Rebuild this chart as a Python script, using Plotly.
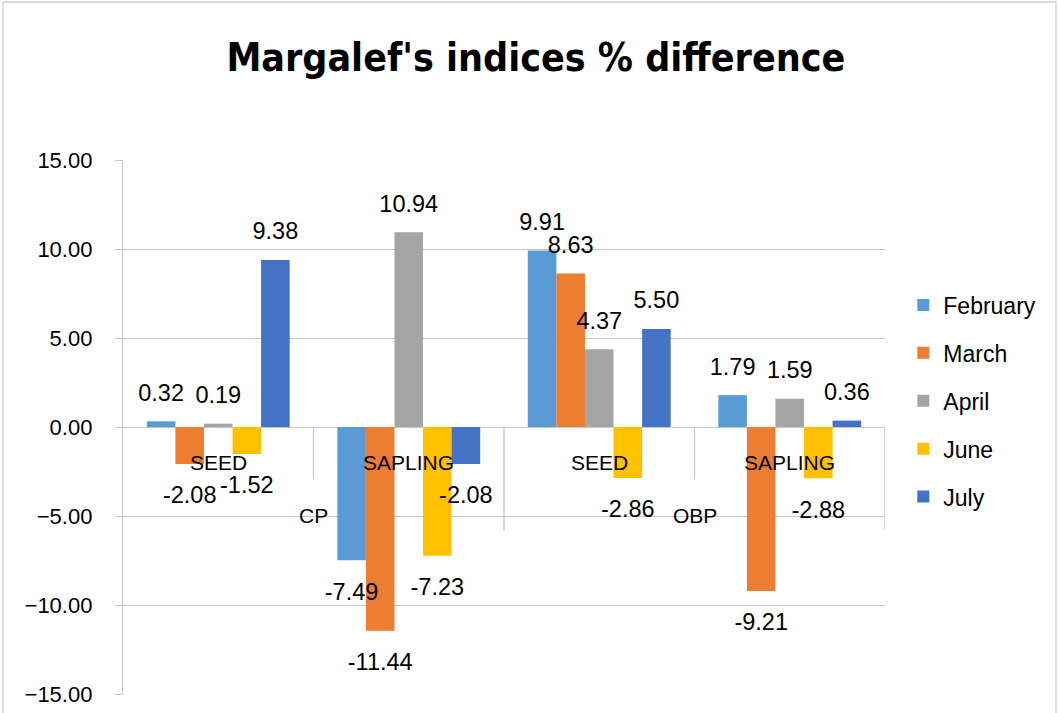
import plotly.graph_objects as go

# ---- data ----
categories = ["SEED", "SAPLING", "SEED", "SAPLING"]
groups = ["CP", "OBP"]
months = ["February", "March", "April", "June", "July"]
february = [0.32, -7.49, 9.91, 1.79]
march = [-2.08, -11.44, 8.63, -9.21]
april = [0.19, 10.94, 4.37, 1.59]
june = [-1.52, -7.23, -2.86, -2.88]
july = [9.38, -2.08, 5.50, 0.36]
y_ticks = [-15, -10, -5, 0, 5, 10, 15]

series = [february, march, april, june, july]
colors = ["#5B9BD5", "#ED7D31", "#A5A5A5", "#FFC000", "#4472C4"]

FONT = "Liberation Sans, Arial, sans-serif"
GRID = "#c6c6c6"

x_idx = list(range(len(categories)))

fig = go.Figure()
for i, (name, vals, col) in enumerate(zip(months, series, colors)):
    fig.add_trace(go.Bar(
        x=x_idx, y=vals, name=name,
        marker=dict(color=col, line=dict(width=0)),
        legendgroup=name,
    ))
# data labels drawn on top of all bars (invisible markers set the label offset)
for i, (name, vals, col) in enumerate(zip(months, series, colors)):
    fig.add_trace(go.Scatter(
        x=x_idx, y=vals, mode="markers+text",
        marker=dict(size=[22 if v >= 0 else 33 for v in vals], opacity=0, color=col),
        text=[f"{v:.2f}" for v in vals],
        textposition=["top center" if v >= 0 else "bottom center" for v in vals],
        textfont=dict(family=FONT, size=23.5, color="#000000"),
        cliponaxis=False, showlegend=False, hoverinfo="skip",
    ))

shapes = []
n = len(categories)
for k in range(1, n + 1):
    xb = k - 0.5
    long_line = (k % 2 == 0)
    shapes.append(dict(
        type="line", xref="x", yref="y", ysizemode="pixel", yanchor=0,
        x0=xb, x1=xb, y0=0, y1=-103 if long_line else -52,
        line=dict(color=GRID, width=1.3),
    ))
shapes.append(dict(
    type="rect", xref="paper", yref="paper",
    x0=(3 - 123) / 762, x1=(1056 - 123) / 762,
    y0=(694 - 716) / 534, y1=(694 - 2) / 534,
    line=dict(color="#d0d0d0", width=1.3), fillcolor="rgba(0,0,0,0)", layer="below",
))

annotations = []
for i, c in enumerate(categories):
    annotations.append(dict(
        x=i, y=0, xref="x", yref="y", text=c, showarrow=False,
        yanchor="middle", yshift=-35,
        font=dict(family=FONT, size=21, color="#000000"),
    ))
for g_i, g in enumerate(groups):
    annotations.append(dict(
        x=2 * g_i + 0.5, y=0, xref="x", yref="y", text=g, showarrow=False,
        yanchor="middle", yshift=-88,
        font=dict(family=FONT, size=21, color="#000000"),
    ))

fig.update_layout(
    width=1059, height=713,
    margin=dict(l=123, r=174, t=160, b=19, autoexpand=False),
    paper_bgcolor="white", plot_bgcolor="white",
    title=dict(
        text="<b>Margalef's indices % difference</b>",
        x=0.506, xanchor="center", y=1 - 57 / 713, yanchor="middle",
        font=dict(family="Liberation Sans Narrow, Arial Narrow, DejaVu Sans Condensed, sans-serif",
                  size=39, color="#000000"),
    ),
    barmode="group", bargap=0.25, bargroupgap=0,
    scattermode="group", scattergap=0.25,
    showlegend=True,
    legend=dict(
        x=1.024, xanchor="left", y=(694 - 401) / 534, yanchor="middle",
        font=dict(family=FONT, size=23, color="#000000"),
        tracegroupgap=15, bgcolor="rgba(0,0,0,0)",
    ),
    shapes=shapes, annotations=annotations,
)
fig.update_xaxes(range=[-0.5, n - 0.5], showticklabels=False, showgrid=False,
                 zeroline=False, showline=False, fixedrange=True, automargin=False)
fig.update_yaxes(range=[-15, 15], tickvals=y_ticks, tickformat=".2f",
                 showgrid=True, gridcolor=GRID, gridwidth=1.3,
                 zeroline=True, zerolinecolor=GRID, zerolinewidth=1.3,
                 showline=True, linecolor=GRID, linewidth=1.3,
                 ticks="outside", ticklen=7, tickcolor=GRID, tickwidth=1.3,
                 ticklabelstandoff=18, automargin=False,
                 tickfont=dict(family=FONT, size=22, color="#000000"))

fig.write_html("out.html", config={"displayModeBar": False})
with open("out.html", "r", encoding="utf-8") as f:
    html = f.read()
html = html.replace("<body>", '<body style="margin:0;padding:0;">', 1)
with open("out.html", "w", encoding="utf-8") as f:
    f.write(html)
